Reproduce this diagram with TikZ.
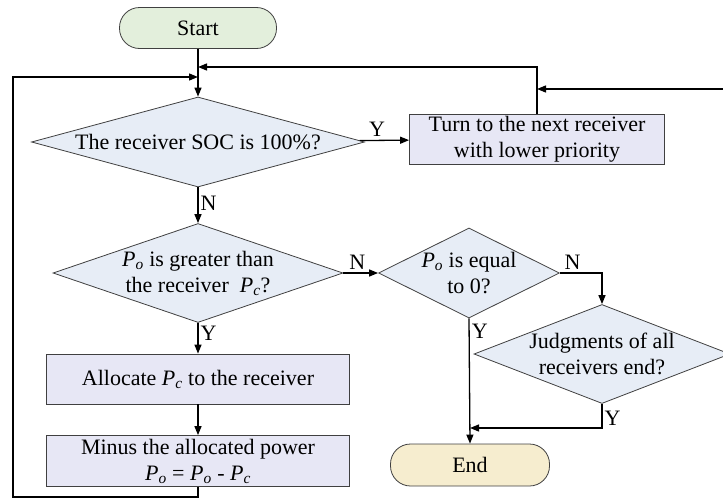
\documentclass[tikz,border=0pt]{standalone}
\usepackage{fontspec}
\setmainfont{Liberation Serif}
\usepackage{xcolor}
\usetikzlibrary{arrows.meta, shapes.geometric}

\definecolor{startfill}{HTML}{E3EFDC}
\definecolor{endfill}{HTML}{F6EDCF}
\definecolor{procfill}{HTML}{E7E7F5}
\definecolor{decfill}{HTML}{E7EDF6}

\newcommand{\Po}{\textit{P}\textsubscript{\textit{o}}}
\newcommand{\Pc}{\textit{P}\textsubscript{\textit{c}}}

\begin{document}
\begin{tikzpicture}[x=1pt, y=-1pt, line width=1.3pt,
    font=\fontsize{22}{26}\selectfont,
    arr/.style={-{Triangle[length=9pt,width=7pt]}},
    terminal/.style={draw=black!75, line width=0.8pt, rounded corners=20pt,
        minimum width=157pt, minimum height=41pt},
    process/.style={draw=black!75, line width=0.8pt, fill=procfill,
        align=center, inner sep=0pt, minimum height=50pt},
    decision/.style={draw=black!75, line width=0.8pt, fill=decfill, diamond,
        align=center, inner sep=0pt}]
    \useasboundingbox (0,0) rectangle (723,498);
    \clip (0,0) rectangle (723,498);

    % Place the blocks
    \node[terminal, fill=startfill] (start) at (198,28) {Start};
    \node[decision, minimum width=333pt, minimum height=90pt, shape aspect=3.7]
        (d1) at (198,142) {The receiver SOC is 100\%?};
    \node[process, minimum width=255pt] (turn) at (537,139)
        {Turn to the next receiver\\with lower priority};
    \node[decision, minimum width=290pt, minimum height=99pt, shape aspect=2.9]
        (d2) at (198,273) {\Po{} is greater than\\the receiver~ \Pc?};
    \node[decision, minimum width=181pt, minimum height=90pt, shape aspect=2]
        (d3) at (469,273) {\Po{} is equal\\to 0?};
    \node[decision, minimum width=256pt, minimum height=99pt, shape aspect=2.6]
        (d4) at (602,354) {Judgments of all\\receivers end?};
    \node[process, minimum width=303pt] (alloc) at (198,379)
        {Allocate \Pc{} to the receiver};
    \node[process, minimum width=303pt, minimum height=51pt] (minus) at (198,461)
        {Minus the allocated power\\\Po{} = \Po{} - \Pc};
    \node[terminal, fill=endfill, minimum width=159pt, minimum height=42pt]
        (end) at (470,465) {End};

    % Joints on the main line
    \coordinate (j1) at (198,67);
    \coordinate (j2) at (198,77);
    \coordinate (lft) at (13,497);

    % Draw the connectors
    \draw[arr] (start) -- (d1);
    \draw[arr] (d1) -- node[above, pos=0.35] {Y} (turn);
    \draw[arr] (turn.north) |- (j1);
    \draw[arr] (d1) -- node[right, pos=0.45, inner sep=2pt] {N} (d2);
    \draw[arr] (d2) -- node[above, pos=0.4] {N} (d3);
    \draw[arr] (d2) -- node[right, pos=0.35, inner sep=2pt] {Y} (alloc);
    \draw[arr] (alloc) -- (minus);
    \draw[arr] (minus.south) |- (lft) |- (j2);
    \draw[arr] (d3.east) -| node[above, pos=0.15] {N} (d4.north);
    \draw[arr] (d3.south) -- node[right, pos=0.1, inner sep=2pt] {Y} (end.north);
    \draw[arr] (d4.south) |- node[right, pos=0.3, inner sep=2pt] {Y} (end.north |- 0,428);
    \draw[arr] (d4.east) -- node[above, pos=0.2] {N} (760,354) |- (turn.north |- 0,89);
\end{tikzpicture}
\end{document}
